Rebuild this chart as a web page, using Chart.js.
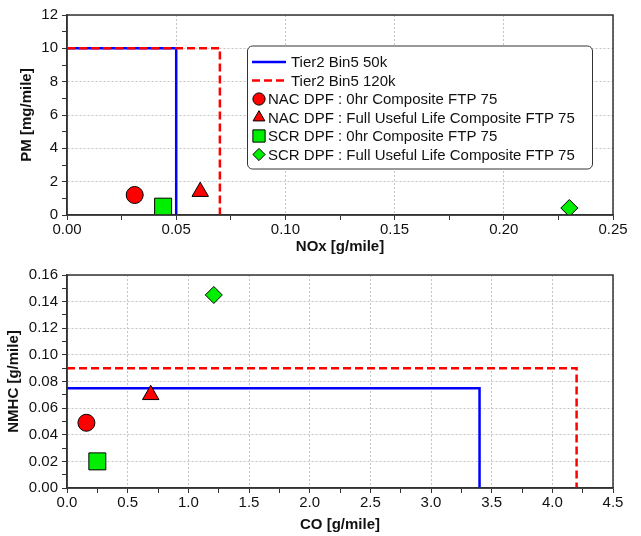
<!DOCTYPE html>
<html>
<head>
<meta charset="utf-8">
<script src="https://cdn.jsdelivr.net/npm/chart.js@4.4.0/dist/chart.umd.min.js"></script>
<style>
    body { margin: 0; background: #fff; }
    #wrap { position: relative; width: 641px; height: 536px; }
    canvas { position: absolute; left: 0; }
    #pm_chart { top: 0; }
    #hc_chart { top: 262px; }
</style>
</head>
<body>
<div id="wrap">
    <canvas id="pm_chart" width="641" height="262"></canvas>
    <canvas id="hc_chart" width="641" height="274"></canvas>
</div>
<script>
// limits (Tier2 Bin5)
const tierNames = ['Tier2 Bin5 50k', 'Tier2 Bin5 120k'];
const tierNox = [0.05, 0.07];
const tierPm = [10, 10];
const tierCo = [3.4, 4.2];
const tierNmhc = [0.075, 0.09];

// test results
const testNames = [
    'NAC DPF : 0hr Composite FTP 75',
    'NAC DPF : Full Useful Life Composite FTP 75',
    'SCR DPF : 0hr Composite FTP 75',
    'SCR DPF : Full Useful Life Composite FTP 75'
];
const testNox = [0.031, 0.061, 0.044, 0.230];
const testPm = [1.2, 1.4, 0.5, 0.42];
const testCo = [0.16, 0.69, 0.25, 1.21];
const testNmhc = [0.049, 0.070, 0.020, 0.145];

// tick labels (major), minor tick between each pair
const noxTicks = ['0.00', '0.05', '0.10', '0.15', '0.20', '0.25'];
const pmTicks = ['0', '2', '4', '6', '8', '10', '12'];
const coTicks = ['0.0', '0.5', '1.0', '1.5', '2.0', '2.5', '3.0', '3.5', '4.0', '4.5'];
const nmhcTicks = ['0.00', '0.02', '0.04', '0.06', '0.08', '0.10', '0.12', '0.14', '0.16'];

const FONT = "'Liberation Sans', Arial, sans-serif";
const tierStyle = [
    { color: '#0000ff', dash: [], order: 3 },
    { color: '#ff0000', dash: [8, 4], order: 2 }
];
const testStyle = [
    { style: 'circle', color: '#ff0000', radius: 8.5 },
    { style: 'triangle', color: '#ff0000', radius: 9.5 },
    { style: 'rect', color: '#00ee00', radius: 12 },
    { style: 'rectRot', color: '#00ee00', radius: 8.5 }
];

function makeDatasets(limX, limY, xs, ys) {
    let sets = [];
    for (let i = 0; i < tierNames.length; i++) {
        sets.push({
            label: tierNames[i],
            data: [{ x: 0, y: limY[i] }, { x: limX[i], y: limY[i] }, { x: limX[i], y: 0 }],
            showLine: true,
            borderColor: tierStyle[i].color,
            borderWidth: 2.5,
            borderDash: tierStyle[i].dash,
            pointRadius: 0,
            order: tierStyle[i].order
        });
    }
    for (let i = 0; i < testNames.length; i++) {
        sets.push({
            label: testNames[i],
            data: [{ x: xs[i], y: ys[i] }],
            showLine: false,
            pointStyle: testStyle[i].style,
            pointRadius: testStyle[i].radius,
            backgroundColor: testStyle[i].color,
            borderColor: '#000',
            borderWidth: 1,
            order: 1
        });
    }
    return sets;
}

function tickBuilder(labels) {
    return function (scale) {
        let t = [];
        for (let i = 0; i < labels.length; i++) {
            let v = parseFloat(labels[i]);
            t.push({ value: v, name: labels[i] });
            if (i < labels.length - 1) {
                t.push({ value: (v + parseFloat(labels[i + 1])) / 2, name: '' });
            }
        }
        scale.ticks = t;
    };
}

function makeAxis(labels, title, fixSize, titlePad, horizontal) {
    return {
        type: 'linear',
        min: parseFloat(labels[0]),
        max: parseFloat(labels[labels.length - 1]),
        afterBuildTicks: tickBuilder(labels),
        afterFit: function (scale) {
            if (horizontal) scale.height = fixSize;
            else scale.width = fixSize;
        },
        ticks: {
            autoSkip: false,
            maxRotation: 0,
            padding: horizontal ? 1 : 4,
            color: '#111',
            font: { family: FONT, size: 15 },
            callback: function (value, index, ticks) {
                return ticks[index].name;
            }
        },
        grid: {
            color: function (c) {
                return c.tick && c.tick.name ? '#c4c4c4' : 'rgba(0,0,0,0)';
            },
            lineWidth: 1,
            tickColor: '#333',
            tickLength: 5,
            tickWidth: 1,
            tickBorderDash: []
        },
        border: { display: true, color: '#333', width: 1.5, dash: [2, 2] },
        title: {
            display: true,
            text: title,
            color: '#111',
            font: { family: FONT, size: 15, weight: 'bold' },
            padding: { top: titlePad, bottom: titlePad }
        }
    };
}

// frame around plot area
const frameBox = {
    id: 'frameBox',
    afterDraw(chart) {
        let a = chart.chartArea;
        let ctx = chart.ctx;
        ctx.save();
        ctx.strokeStyle = '#333';
        ctx.lineWidth = 1.5;
        ctx.strokeRect(a.left, a.top, a.right - a.left, a.bottom - a.top);
        ctx.restore();
    }
};

// legend inside the upper plot
const legendBox = {
    id: 'legendBox',
    afterDraw(chart) {
        let ctx = chart.ctx;
        ctx.save();
        ctx.beginPath();
        if (ctx.roundRect) ctx.roundRect(247.5, 46, 345, 123, 5);
        else ctx.rect(247.5, 46, 345, 123);
        ctx.fillStyle = '#fff';
        ctx.fill();
        ctx.strokeStyle = '#333';
        ctx.lineWidth = 1;
        ctx.stroke();

        ctx.font = '15px ' + FONT;
        ctx.textBaseline = 'middle';
        chart.data.datasets.forEach(function (ds, i) {
            let y = 62 + i * 18.5;
            let tx;
            if (ds.showLine) {
                ctx.save();
                ctx.strokeStyle = ds.borderColor;
                ctx.lineWidth = ds.borderWidth;
                ctx.setLineDash(ds.borderDash);
                ctx.beginPath();
                ctx.moveTo(252, y);
                ctx.lineTo(286, y);
                ctx.stroke();
                ctx.restore();
                tx = 291;
            } else {
                ctx.save();
                ctx.fillStyle = ds.backgroundColor;
                ctx.strokeStyle = ds.borderColor;
                ctx.lineWidth = 1;
                Chart.helpers.drawPoint(ctx, {
                    pointStyle: ds.pointStyle,
                    radius: ds.pointRadius * 0.72,
                    rotation: 0,
                    borderWidth: 1
                }, 259, y);
                ctx.restore();
                tx = 268;
            }
            ctx.fillStyle = '#111';
            ctx.fillText(ds.label, tx, y + 1);
        });
        ctx.restore();
    }
};

Chart.defaults.animation = false;

var pm_chart = new Chart($id('pm_chart'), {
    type: 'scatter',
    data: { datasets: makeDatasets(tierNox, tierPm, testNox, testPm) },
    options: {
        responsive: false,
        devicePixelRatio: 1,
        layout: { padding: { left: 0, top: 15, right: 28, bottom: 0 } },
        plugins: { legend: { display: false }, tooltip: { enabled: false } },
        scales: {
            x: makeAxis(noxTicks, 'NOx [g/mile]', 47, 6, true),
            y: makeAxis(pmTicks, 'PM [mg/mile]', 67, 18, false)
        }
    },
    plugins: [frameBox, legendBox]
});

var hc_chart = new Chart($id('hc_chart'), {
    type: 'scatter',
    data: { datasets: makeDatasets(tierCo, tierNmhc, testCo, testNmhc) },
    options: {
        responsive: false,
        devicePixelRatio: 1,
        layout: { padding: { left: 0, top: 11, right: 28, bottom: 0 } },
        plugins: { legend: { display: false }, tooltip: { enabled: false } },
        scales: {
            x: makeAxis(coTicks, 'CO [g/mile]', 48, 2, true),
            y: makeAxis(nmhcTicks, 'NMHC [g/mile]', 67, 5, false)
        }
    },
    plugins: [frameBox]
});

function $id(id) {
    return document.getElementById(id);
}
</script>
</body>
</html>
